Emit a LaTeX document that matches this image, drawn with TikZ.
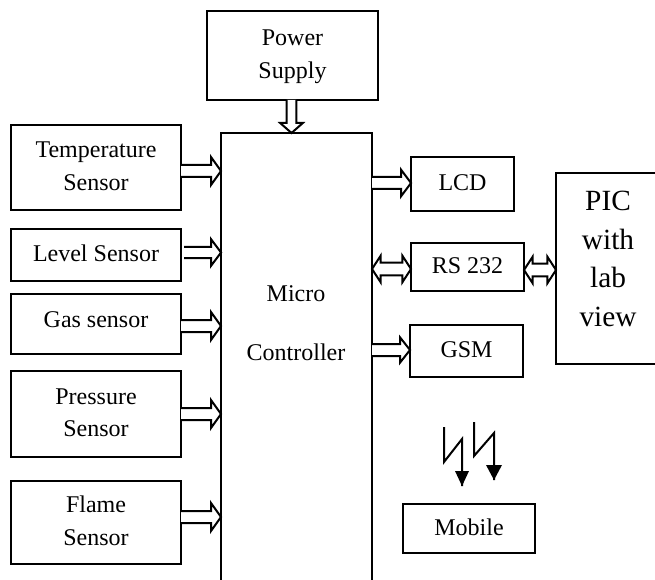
\documentclass[tikz,border=0pt]{standalone}
\usepackage{fontspec}
\setmainfont{Liberation Serif}
\usetikzlibrary{calc}
\tikzset{
  x=0.75pt,y=-0.75pt,
  box/.style={draw,line width=1.7pt,inner sep=0pt,outer sep=0pt,align=center,font=\fontsize{18}{24.4}\selectfont},
  blockline/.style={draw,line width=1.5pt,fill=white,line join=miter},
  bolt/.style={line width=1.5pt},
}
\newcommand{\boxat}[6]{\node[box,minimum width=#3*0.75pt-#1*0.75pt,minimum height=#4*0.75pt-#2*0.75pt,anchor=north west] (#5) at (#1,#2) {\raisebox{2.2pt}{\begin{tabular}{@{}c@{}}#6\end{tabular}}};}
% single-headed block arrow from #1 to #2; #3 shaft half width, #4 head half width, #5 head length
\newcommand{\blockS}[5]{%
  \coordinate (hb) at ($(#2)!#5!(#1)$);
  \draw[blockline] ($(#1)!#3!90:(#2)$) -- ($(hb)!#3!90:(#2)$) -- ($(hb)!#4!90:(#2)$) -- (#2)
    -- ($(hb)!#4!-90:(#2)$) -- ($(hb)!#3!-90:(#2)$) -- ($(#1)!#3!-90:(#2)$);}
% double-headed block arrow between #1 and #2
\newcommand{\blockD}[2]{%
  \coordinate (hb) at ($(#2)!6.5pt!(#1)$);
  \coordinate (ha) at ($(#1)!6.5pt!(#2)$);
  \draw[blockline] (#1) -- ($(ha)!10pt!90:(#2)$) -- ($(ha)!4.7pt!90:(#2)$) -- ($(hb)!4.7pt!90:(#2)$) -- ($(hb)!10pt!90:(#2)$) -- (#2)
    -- ($(hb)!10pt!-90:(#2)$) -- ($(hb)!4.7pt!-90:(#2)$) -- ($(ha)!4.7pt!-90:(#2)$) -- ($(ha)!10pt!-90:(#2)$) -- cycle;}
\begin{document}
\begin{tikzpicture}
\useasboundingbox (0,0) rectangle (655,580);
\boxat{207}{11}{378}{100}{power}{Power\\Supply}
\boxat{221}{133}{372}{590}{micro}{}
\node[font=\fontsize{18}{44}\selectfont,align=center] (microtxt) at (296,323) {Micro\\Controller};
\boxat{11}{125}{181}{210}{temp}{Temperature\\Sensor}
\boxat{11}{229}{181}{281}{level}{Level Sensor}
\boxat{11}{294}{181}{354}{gas}{\raisebox{2pt}{Gas sensor}}
\boxat{11}{371}{181}{457}{press}{Pressure\\Sensor}
\boxat{11}{481}{181}{564}{flame}{Flame\\Sensor}
\boxat{411}{157}{514}{211}{lcd}{LCD}
\boxat{411}{243}{524}{291}{rs}{RS 232}
\boxat{410}{325}{523}{377}{gsm}{GSM}
\boxat{556}{173}{658}{364}{pic}{}
\node[font=\fontsize{22}{29}\selectfont,align=center] (pictxt) at (608,259) {PIC\\with\\lab\\view};
\boxat{403}{504}{535}{553}{mobile}{Mobile}
%
\coordinate (a1) at (291.5,100);
\blockS{power.south -| a1}{micro.north -| a1}{3.7pt}{8.5pt}{7.5pt}
\foreach \n/\yy in {temp/171,gas/326,press/414,flame/517}{
  \blockS{\n.east |- 0,\yy}{micro.west |- 0,\yy}{4.5pt}{10.5pt}{7.5pt}
}
\coordinate (levelout) at (184,252.5);
\blockS{levelout}{micro.west |- levelout}{4.2pt}{10pt}{7.5pt}
\blockS{micro.east |- 0,183}{lcd.west |- 0,183}{4.5pt}{10pt}{7.5pt}
\blockS{micro.east |- 0,350}{gsm.west |- 0,350}{4.5pt}{9.5pt}{7.5pt}
\blockD{micro.east |- 0,269}{rs.west |- 0,269}
\blockD{rs.east |- 0,270}{pic.west |- 0,270}
%
\coordinate (b1) at (444,427); \coordinate (b2) at (444,462); \coordinate (b3) at (462,439); \coordinate (b4) at (462,486);
\draw[bolt] (b1) -- (b2) -- (b3) -- (b4);
\fill (455,471) -- (469,471) -- (b4) -- cycle;
\coordinate (c1) at (474,422); \coordinate (c2) at (474,456); \coordinate (c3) at (494,433); \coordinate (c4) at (494,480);
\draw[bolt] (c1) -- (c2) -- (c3) -- (c4);
\fill (486,465) -- (502,465) -- (c4) -- cycle;
\end{tikzpicture}
\end{document}
